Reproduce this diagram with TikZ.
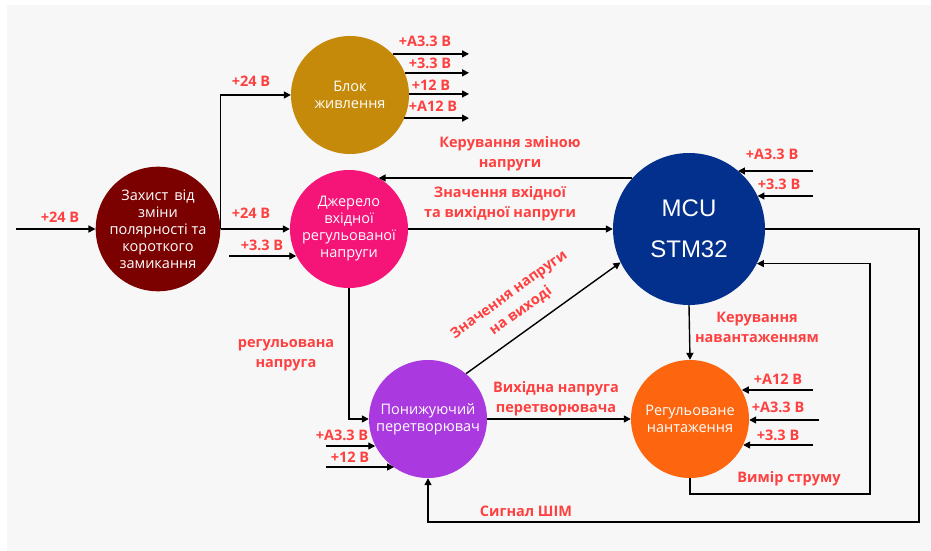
\documentclass[tikz,border=0pt]{standalone}
\usepackage{fontspec}
\setmainfont{Open Sans}
\newfontfamily\mcufont{Liberation Sans}
\usepackage{xcolor}
\usepackage{tikz}
\usetikzlibrary{arrows.meta,positioning,calc}
\definecolor{labred}{RGB}{255,64,64}
\definecolor{bgcol}{RGB}{247,247,247}
\definecolor{protcol}{RGB}{123,0,0}
\definecolor{blokcol}{RGB}{197,138,9}
\definecolor{djercol}{RGB}{245,20,120}
\definecolor{mcucol}{RGB}{3,48,140}
\definecolor{poncol}{RGB}{170,58,224}
\definecolor{regcol}{RGB}{253,101,14}

\begin{document}
\begin{tikzpicture}[
  x=1pt, y=-1pt,
  bubble/.style={circle, minimum size=118pt, inner sep=0pt, text=white, align=center, font=\fontsize{14.5}{17}\selectfont},
  lab/.style={text=labred, font=\fontsize{14.5}{20}\selectfont\bfseries, align=center, inner sep=1pt},
  conn/.style={line width=1.4pt, -{Triangle[length=7pt,width=7pt]}},
  wire/.style={line width=1.4pt}
]
\useasboundingbox (0,0) rectangle (931,551);
\fill[bgcol] (7,5) rectangle (931,551);

\node[bubble, fill=protcol] (prot) at (158,229) {Захист\, від\\зміни\\полярності та\\короткого\\замикання};
\node[bubble, fill=blokcol] (blok) at (350,95) {Блок\\живлення};
\node[bubble, fill=djercol] (djer) at (349,229) {Джерело\\вхідної\\регульованої\\напруги};
\node[bubble, fill=mcucol, minimum size=152pt, font=\mcufont\fontsize{24}{41}\selectfont] (mcu) at (689,229) {MCU\\STM32};
\node[bubble, fill=poncol] (pon) at (428,419) {Понижуючий\\перетворювач};
\node[bubble, fill=regcol] (reg) at (690,419) {Регульоване\\нантаження};

\coordinate (vin) at (16,229);
\coordinate (dj33) at (229,256);
\coordinate (o1) at (469,54);
\coordinate (o2) at (469,73);
\coordinate (o3) at (469,94);
\coordinate (o4) at (469,118);
\coordinate (m1) at (813,171);
\coordinate (m2) at (813,196);
\coordinate (r1) at (813,390);
\coordinate (r2) at (819,420);
\coordinate (r3) at (813,445);
\coordinate (p1) at (326,446);
\coordinate (p2) at (326,467);
\coordinate (rb) at (919,522);
\coordinate (lb) at (870,494);

\draw[conn] (vin) -- (prot.west);
\draw[conn] (prot.east) |- (blok.west);
\draw[conn] (prot.east) -- (djer.west);
\draw[conn] (dj33) -- (dj33 -| djer.207);

\draw[conn] (blok.44) -- (blok.44 -| o1);
\draw[conn] (blok.22) -- (blok.22 -| o2);
\draw[conn] (blok.1) -- (blok.1 -| o3);
\draw[conn] (blok.-23) -- (blok.-23 -| o4);

\draw[conn] (mcu.138) -- (mcu.138 -| djer.60);
\draw[conn] (djer.east) -- (mcu.west);
\draw[conn] (m1) -- (m1 -| mcu.50);
\draw[conn] (m2) -- (m2 -| mcu.26);

\draw[conn] (mcu.east) -| (rb) -| (pon.south);
\draw[conn] (reg.south) |- (lb) |- (mcu.-27);
\draw[conn] (mcu.south) -- (reg.north);

\draw[conn] (r1) -- (r1 -| reg.29);
\draw[conn] (r2) -- (r2 -| reg.east);
\draw[conn] (r3) -- (r3 -| reg.-26);

\draw[conn] (djer.south) |- (pon.west);
\draw[conn] (pon.east) -- (reg.west);
\draw[conn] (pon.50) -- (mcu.206);
\draw[conn] (p1) -- (p1 -| pon.207);
\draw[conn] (p2) -- (p2 -| pon.235);

\node[lab] (lvin) at (60,217) {+24 В};
\node[lab] (lblok) at (251,81) {+24 В};
\node[lab] (ldjer) at (251,213) {+24 В};
\node[lab] (ldj33) at (262,245) {+3.3 В};
\node[lab] (lo1) at (425,41) {+A3.3 В};
\node[lab] (lo2) at (430,63) {+3.3 В};
\node[lab] (lo3) at (431,85) {+12 В};
\node[lab] (lo4) at (433,106) {+A12 В};
\node[lab] (lkerz) at (510,154) {Керування зміною\\напруги};
\node[lab] (lznach) at (500,204) {Значення вхідної\\та вихідної напруги};
\node[lab] (lm1) at (772,154) {+A3.3 В};
\node[lab] (lm2) at (779,184) {+3.3 В};
\node[lab] (lkern) at (757,327) {Керування\\навантаженням};
\node[lab] (lr1) at (778,379) {+A12 В};
\node[lab] (lr2) at (778,407) {+A3.3 В};
\node[lab] (lr3) at (778,435) {+3.3 В};
\node[lab] (lvymir) at (789,479) {Вимір струму};
\node[lab] (lshim) at (526,511) {Сигнал ШІМ};
\node[lab] (lvyh) at (556,399) {Вихідна напруга\\перетворювача};
\node[lab] (lreg) at (286,355) {регульована\\напруга};
\node[lab] (lp1) at (342,435) {+A3.3 В};
\node[lab] (lp2) at (350,457) {+12 В};
\node[lab, rotate=36] (ldiag) at (515,303) {Значення напруги\\на виході};
\end{tikzpicture}
\end{document}
